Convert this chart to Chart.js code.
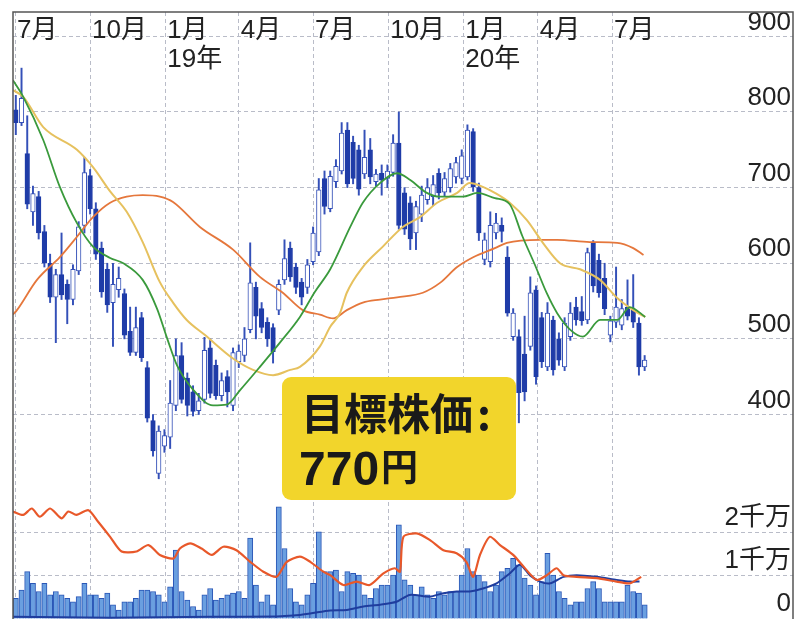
<!DOCTYPE html>
<html lang="ja">
<head>
<meta charset="utf-8">
<script src="https://cdn.jsdelivr.net/npm/chart.js@4.4.1/dist/chart.umd.min.js"></script>
<style>
  html, body { margin: 0; padding: 0; background: #fff; }
  #wrap { width: 796px; height: 619px; position: relative; }
</style>
</head>
<body>
<div id="wrap"><canvas id="chart"></canvas></div>
<script>
// 週足 (2018年7月〜2020年8月), index = 週番号
const opens  = [803,786,745,668,688,642,600,555,585,572, 552,590,650,716,672,620,592,548,565,560,
                510,482,528,462,392,322,358,370,412,478, 448,430,405,420,488,465,425,450,412,470,
                478,512,568,540,522,515,538,578,620,595, 575,568,602,615,712,672,708,722,776,760,
                750,718,750,708,719,712,720,759,693,680, 640,665,684,688,719,694,700,714,712,714,
                774,700,605,602,640,650,608,503,503,480, 490,565,528,463,525,500,463,503,542,536,
                525,627,604,580,505,522,518,542,538,521, 463];
const highs  = [822,858,795,702,695,650,612,592,640,578, 598,655,740,724,680,628,600,600,595,566,
                542,542,535,470,400,385,380,445,500,495, 455,438,428,502,500,472,455,458,488,492,
                515,627,575,548,528,520,578,631,628,600, 580,605,648,712,722,722,737,786,786,768,
                756,776,765,724,730,730,770,800,700,688, 682,702,712,716,725,720,732,740,750,783,
                778,706,640,668,666,660,622,540,512,530, 582,570,535,548,530,508,528,548,555,556,
                620,630,612,600,530,595,552,578,585,528, 478];
const lows   = [770,782,672,650,632,595,548,495,552,520, 545,585,640,665,605,555,535,490,555,500,
                478,478,470,390,345,315,350,355,405,415, 398,398,400,415,422,420,418,410,405,462,
                470,508,500,508,490,468,532,572,576,560, 545,560,598,610,665,668,700,718,700,705,
                690,712,705,702,690,700,715,645,638,618, 618,655,678,676,685,688,694,706,705,710,
                695,630,598,595,632,628,530,498,389,418, 485,440,462,458,452,465,458,498,518,518,
                520,562,555,532,496,515,512,525,515,452, 458];
const closes = [786,818,678,692,640,600,555,585,558,552, 592,648,720,672,612,562,545,572,580,505,
                482,515,475,395,352,378,372,415,478,420, 412,404,418,485,428,425,445,430,482,484,
                500,574,530,515,500,483,572,606,582,568, 555,598,640,697,675,715,728,772,705,712,
                698,740,714,718,710,722,759,650,645,632, 675,690,700,704,693,712,725,733,742,776,
                701,640,631,650,653,642,534,534,429,430, 561,450,470,534,459,472,521,534,525,524,
                614,570,561,540,524,542,540,530,522,463, 472];

// 出来高 (万株)
const volumes = [480,670,1100,830,640,830,560,640,560,480, 400,520,830,560,560,480,600,330,210,400,
                 400,480,670,670,640,560,400,750,1600,640, 440,290,210,560,710,440,480,560,600,640,
                 480,1880,790,400,560,330,2610,1640,710,400, 330,560,830,2030,1100,1100,1140,640,1100,1060,
                 1020,560,480,710,790,790,1020,2190,910,790, 560,750,560,480,640,560,640,640,1020,1640,
                 1100,1020,870,640,790,1100,1180,1410,1260,950, 790,560,870,1530,1020,640,480,330,400,400,
                 710,870,710,400,400,400,400,790,640,600, 330];

// 移動平均線 (週番号, 円)
const ma13Weeks = [-0.5,1.3,4.8,7.7,10.7,13.5,16.5,18.8,22.2,24.7,26.5,28.2,31,34.5,36.9,39.2,42.7,46.2,49.7,52.3,
                   55,58.5,60.7,63.7,66.7,69,71.9,74.2,78.2,80.7,83.8,86.4,88.6,90.8,92.9,94.7,97,99.2,102.2,105.2,107.4,110.1];
const ma13      = [842,820,763,701,653,622,607,600,578,540,500,465,433,412,413,432,463,495,529,562,
                   592,648,680,706,719,710,693,688,688,693,686,678,636,598,560,534,512,503,525,525,542,529];
const ma26Weeks = [-0.5,1.3,4.8,10.7,13.5,16.5,19.4,22.2,25.2,27.5,29.9,33.1,38,41.5,45,48,49.7,53.2,55,56.7,
                   57.9,60.7,64.2,67.7,70.7,73.7,77.2,79.4,81.7,83.8,86.4,89.4,92.2,95.2,98.7,102.2,105.2,108,110.1];
const ma26      = [829,820,780,750,727,695,668,628,575,548,525,505,474,459,452,459,463,490,516,534,
                   561,595,622,648,661,680,693,706,701,693,680,657,627,600,592,578,554,538,529];
const ma52Weeks = [-0.5,0.2,3.7,7.7,10.7,13.5,16.5,19.4,22.2,25.2,27.5,32.2,38,42.7,46.7,50.2,53.2,55.5,57.9,60.7,
                   63.7,66.7,71.2,74.2,77.2,80,83.8,85.9,91.7,94.7,100.4,105.2,108,109.8];
const ma52      = [532,538,578,608,635,661,680,688,690,688,681,648,618,582,561,538,532,527,538,548,
                   552,555,561,574,595,608,620,627,631,631,628,627,620,611];

// 信用買残・信用売残 (週番号, 万株)
const buyWeeks  = [-0.5,1.3,2.8,4.2,6,8,9.2,10.6,12.7,14.4,16.5,18.5,21.1,23.2,25.2,27.6,28.7,30.5,32.5,34.3,
                   36.3,38.6,41,43.3,45.6,47.4,49.7,51.5,53.8,55,57.3,59.6,61.9,64.3,66.3,67.2,67.8,70.1,72.4,74.8,
                   77.1,78.8,80,81.2,82.9,84.7,87,88.8,91.1,92.9,94.6,95.8,98.1,101.6,105.1,107.4,109.4];
const buyBalance = [2500,2420,2570,2380,2570,2340,2500,2420,2530,2260,1910,1570,1570,1720,1490,1410,1640,1760,1640,1490,
                    1680,1600,1330,1100,980,1330,1450,1330,1100,1020,790,870,790,1060,1180,1100,1910,1990,1840,1600,
                    1530,1330,980,1490,1910,1720,1490,1220,910,1020,1180,1020,980,950,870,830,980];
const sellWeeks  = [-0.5,16.5,34,45.6,48.5,51.5,55,57.9,60.8,63.7,66.6,68.9,72.4,74.8,77.1,79.4,81.7,84.1,86.4,88.2,
                    89.9,91.7,93.5,95.8,98.1,101.6,105.1,107.4,109.1];
const sellBalance = [50,30,50,60,80,130,200,210,290,330,400,560,520,600,640,640,710,830,1060,1260,
                     1020,870,830,980,1020,980,910,870,870];

// 目盛り
const monthTicks  = [-0.14,13,26.14,39,52,65.14,78.29,91.29,104.29];
const monthLabels = ['7月','10月','1月','4月','7月','10月','1月','4月','7月'];
const yearLabels  = ['','','19年','','','','20年','',''];
const priceTicks  = [400,500,600,700,800,900];
const volTicks    = [0,1000,2000];
const volTickLabels = ['0','1千万','2千万'];

const TEXT = '#222';
const FONT = "'Liberation Sans', 'Noto Sans CJK JP', sans-serif";
const BLUE = '#1f3ca8';
const BLUE_LINE = '#3450b8';
const GRID = '#b9bcc8';

const weeks = opens.map((_, i) => i);

function pts(xs, ys) {
  return xs.map((x, i) => ({ x: x, y: ys[i] }));
}

// 右側の目盛りは枠の内側に置くので、幅も上下の余白も取らない
function flatAxis(s) {
  s.width = 0;
  s.paddingTop = 0;
  s.paddingBottom = 0;
}

const overlayPlugin = {
  id: 'overlay',
  afterDraw(chart) {
    const ctx = chart.ctx;
    const a = chart.chartArea;
    const xs = chart.scales.x;
    ctx.save();

    // 枠
    ctx.strokeStyle = '#555';
    ctx.lineWidth = 1.5;
    ctx.beginPath();
    ctx.moveTo(a.left, a.bottom);
    ctx.lineTo(a.left, a.top);
    ctx.lineTo(a.right, a.top);
    ctx.lineTo(a.right, a.bottom);
    ctx.stroke();

    // 月ラベル
    ctx.fillStyle = TEXT;
    ctx.font = '26px ' + FONT;
    ctx.textAlign = 'left';
    ctx.textBaseline = 'middle';
    monthTicks.forEach((w, i) => {
      const px = xs.getPixelForValue(w) + 2;
      ctx.fillText(monthLabels[i], px, 31);
      if (yearLabels[i]) ctx.fillText(yearLabels[i], px, 60);
    });

    // 目標株価ボックス
    const bx = 282, by = 377, bw = 234, bh = 123;
    ctx.fillStyle = '#f2d52b';
    ctx.beginPath();
    ctx.roundRect(bx, by, bw, bh, 9);
    ctx.fill();

    ctx.fillStyle = '#1a1a1a';
    ctx.font = "bold 43px 'Noto Sans CJK JP', sans-serif";
    ctx.textBaseline = 'middle';
    ctx.fillText('目標株価', 301, 414);
    ctx.fillText(':', 301 + ctx.measureText('目標株価').width + 4, 414);

    ctx.textBaseline = 'alphabetic';
    ctx.font = "bold 48px 'Liberation Sans', sans-serif";
    ctx.fillText('770', 299, 485);
    const w770 = ctx.measureText('770').width;
    ctx.font = "bold 37px 'Noto Sans CJK JP', sans-serif";
    ctx.fillText('円', 299 + w770 + 2, 481);

    ctx.restore();
  }
};

new Chart(document.getElementById('chart'), {
  type: 'bar',
  data: {
    datasets: [
      {
        type: 'line', label: '13週', data: pts(ma13Weeks, ma13), yAxisID: 'y',
        borderColor: '#3a9a3c', borderWidth: 1.8, pointRadius: 0,
        cubicInterpolationMode: 'monotone', order: 0
      },
      {
        type: 'line', label: '26週', data: pts(ma26Weeks, ma26), yAxisID: 'y',
        borderColor: '#e6c15e', borderWidth: 2, pointRadius: 0,
        cubicInterpolationMode: 'monotone', order: 0
      },
      {
        type: 'line', label: '52週', data: pts(ma52Weeks, ma52), yAxisID: 'y',
        borderColor: '#e5773c', borderWidth: 1.8, pointRadius: 0,
        cubicInterpolationMode: 'monotone', order: 0
      },
      {
        label: '実体', data: weeks.map(i => ({ x: i, y: [opens[i], closes[i]] })), yAxisID: 'y',
        backgroundColor: weeks.map(i => closes[i] >= opens[i] ? '#ffffff' : BLUE),
        borderColor: weeks.map(i => closes[i] >= opens[i] ? BLUE_LINE : BLUE),
        borderWidth: 1, borderSkipped: false, barThickness: 4.6, grouped: false, order: 1
      },
      {
        label: 'ヒゲ', data: weeks.map(i => ({ x: i, y: [lows[i], highs[i]] })), yAxisID: 'y',
        backgroundColor: BLUE_LINE, borderWidth: 0, barThickness: 1.3, grouped: false, order: 2
      },
      {
        type: 'line', label: '信用買残', data: pts(buyWeeks, buyBalance), yAxisID: 'yv',
        borderColor: '#e8582a', borderWidth: 2.2, pointRadius: 0, tension: 0.25, order: 0
      },
      {
        type: 'line', label: '信用売残', data: pts(sellWeeks, sellBalance), yAxisID: 'yv',
        borderColor: '#1f3d9e', borderWidth: 2, pointRadius: 0, tension: 0.25, order: 0
      },
      {
        label: '出来高', data: weeks.map(i => ({ x: i, y: volumes[i] })), yAxisID: 'yv',
        backgroundColor: '#6a9fe0', borderColor: '#2a56b6', borderWidth: 1,
        borderSkipped: 'start', barThickness: 5.2, grouped: false, order: 3
      }
    ]
  },
  options: {
    responsive: true,
    maintainAspectRatio: false,
    animation: false,
    devicePixelRatio: 1,
    layout: { padding: { left: 13, top: 12, right: 3, bottom: 0 } },
    plugins: { legend: { display: false }, tooltip: { enabled: false } },
    scales: {
      x: {
        type: 'linear', min: -0.49, max: 135.95, offset: false,
        grid: { color: GRID, lineWidth: 1, drawTicks: false, offset: false },
        border: { display: false, dash: [4, 3] },
        ticks: { display: false },
        afterBuildTicks: s => { s.ticks = monthTicks.map(v => ({ value: v })); },
        afterFit: s => { s.height = 0; s.paddingLeft = 0; s.paddingRight = 0; }
      },
      y: {
        position: 'right', min: 129.6, max: 932.2,
        grid: { color: GRID, lineWidth: 1, drawTicks: false },
        border: { display: false, dash: [4, 3] },
        ticks: {
          mirror: true, padding: -2, labelOffset: -14, autoSkip: false,
          color: TEXT, font: { family: FONT, size: 26 }
        },
        afterBuildTicks: s => { s.ticks = priceTicks.map(v => ({ value: v })); },
        afterFit: flatAxis
      },
      yv: {
        position: 'right', min: 0, max: 14116,
        grid: { color: GRID, lineWidth: 1, drawTicks: false },
        border: { display: false, dash: [4, 3] },
        ticks: {
          mirror: true, padding: -2, labelOffset: -15, autoSkip: false,
          color: TEXT, font: { family: FONT, size: 26 },
          callback: (v) => volTickLabels[volTicks.indexOf(v)]
        },
        afterBuildTicks: s => { s.ticks = volTicks.map(v => ({ value: v })); },
        afterFit: flatAxis
      }
    }
  },
  plugins: [overlayPlugin]
});
</script>
</body>
</html>
